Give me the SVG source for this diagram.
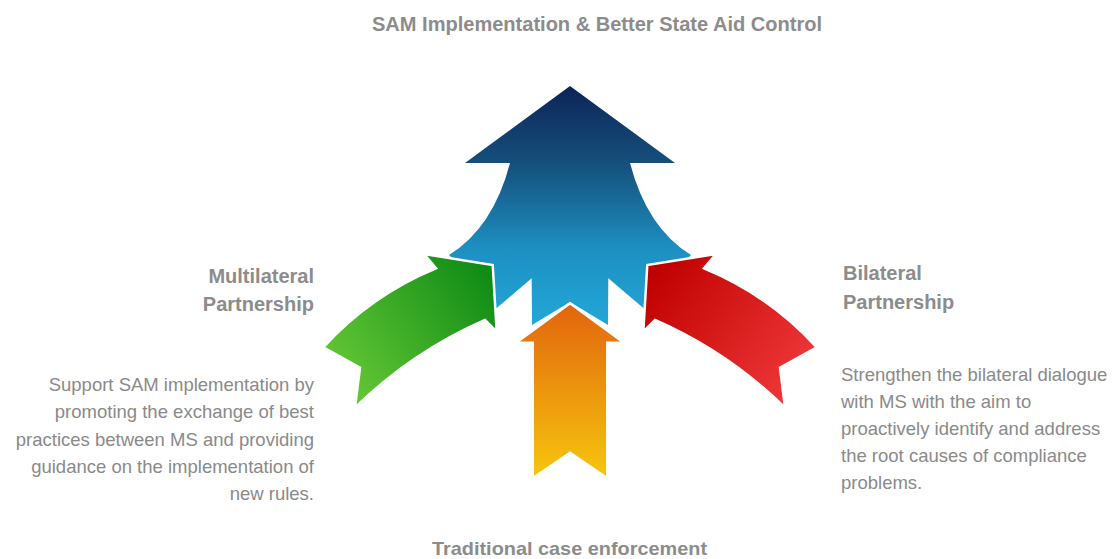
<svg xmlns="http://www.w3.org/2000/svg" width="1120" height="559" viewBox="0 0 1120 559">
<defs>
<linearGradient id="gBlue" gradientUnits="userSpaceOnUse" x1="0" y1="86" x2="0" y2="325">
<stop offset="0" stop-color="#0c2457"/>
<stop offset="0.32" stop-color="#154f7b"/>
<stop offset="0.68" stop-color="#1d8fc1"/>
<stop offset="1" stop-color="#22a7d8"/>
</linearGradient>
<linearGradient id="gOrange" gradientUnits="userSpaceOnUse" x1="0" y1="303" x2="0" y2="478">
<stop offset="0" stop-color="#e2640c"/>
<stop offset="1" stop-color="#f6c60f"/>
</linearGradient>
<linearGradient id="gGreen" gradientUnits="userSpaceOnUse" x1="335" y1="395" x2="495" y2="275">
<stop offset="0" stop-color="#6acb37"/>
<stop offset="1" stop-color="#0d8a15"/>
</linearGradient>
<linearGradient id="gRed" gradientUnits="userSpaceOnUse" x1="650" y1="275" x2="805" y2="395">
<stop offset="0" stop-color="#bf0000"/>
<stop offset="1" stop-color="#f23b3b"/>
</linearGradient>
</defs>
<style>
.head{font-family:"Liberation Sans",Arial,sans-serif;font-weight:bold;font-size:20px;fill:#8c8c8c}
.body{font-family:"Liberation Sans",Arial,sans-serif;font-size:18.5px;fill:#8a8a8a}
.edge{stroke:#ffffff;stroke-width:2.5;stroke-linejoin:miter}
</style>
<rect width="1120" height="559" fill="#ffffff"/>
<g id="connectors"></g>
<g id="node-top">
<path d="M 570 86 L 675 163 L 630 163 Q 647 228 691 255 L 660 285 L 648 312 L 608.3 278.3 L 608 325 L 570 302 L 532 325 L 531.7 278.3 L 492 312 L 480 285 L 449 255 Q 493 228 510 163 L 465 163 Z" fill="url(#gBlue)"/>
<text class="head" x="597" y="31" text-anchor="middle" textLength="450" lengthAdjust="spacingAndGlyphs">SAM Implementation &amp; Better State Aid Control</text>
</g>
<g id="node-multilateral">
<path class="edge" d="M 323.3 347.3 Q 371 295 436 268.3 L 424 254 L 492.7 265 L 496.7 331.7 L 485 320 Q 412 352 355 407.7 L 360 367.7 Z" fill="url(#gGreen)"/>
<text class="head" x="314" y="283" text-anchor="end">Multilateral</text>
<text class="head" x="314" y="311" text-anchor="end">Partnership</text>
<g class="body" text-anchor="end">
<text x="314" y="391">Support SAM implementation by</text>
<text x="314" y="418">promoting the exchange of best</text>
<text x="314" y="445.5">practices between MS and providing</text>
<text x="314" y="472.5">guidance on the implementation of</text>
<text x="314" y="499.5">new rules.</text>
</g>
</g>
<g id="node-bilateral">
<path class="edge" d="M 816.7 347.3 Q 769 295 704 268.3 L 716 254 L 647.3 265 L 643.3 331.7 L 655 320 Q 728 352 785 407.7 L 780 367.7 Z" fill="url(#gRed)"/>
<text class="head" x="843" y="280">Bilateral</text>
<text class="head" x="843" y="309">Partnership</text>
<g class="body">
<text x="841" y="381">Strengthen the bilateral dialogue</text>
<text x="841" y="408">with MS with the aim to</text>
<text x="841" y="435">proactively identify and address</text>
<text x="841" y="462">the root causes of compliance</text>
<text x="841" y="489">problems.</text>
</g>
</g>
<g id="node-traditional">
<path class="edge" d="M 570 303.3 L 624 342.7 L 607.3 342.7 L 607.3 478.3 L 570 452.7 L 532.7 478.3 L 532.7 342.7 L 516 342.7 Z" fill="url(#gOrange)"/>
<text class="head" x="569.5" y="555" text-anchor="middle" textLength="275" lengthAdjust="spacingAndGlyphs" style="font-size:19px">Traditional case enforcement</text>
</g>
</svg>
